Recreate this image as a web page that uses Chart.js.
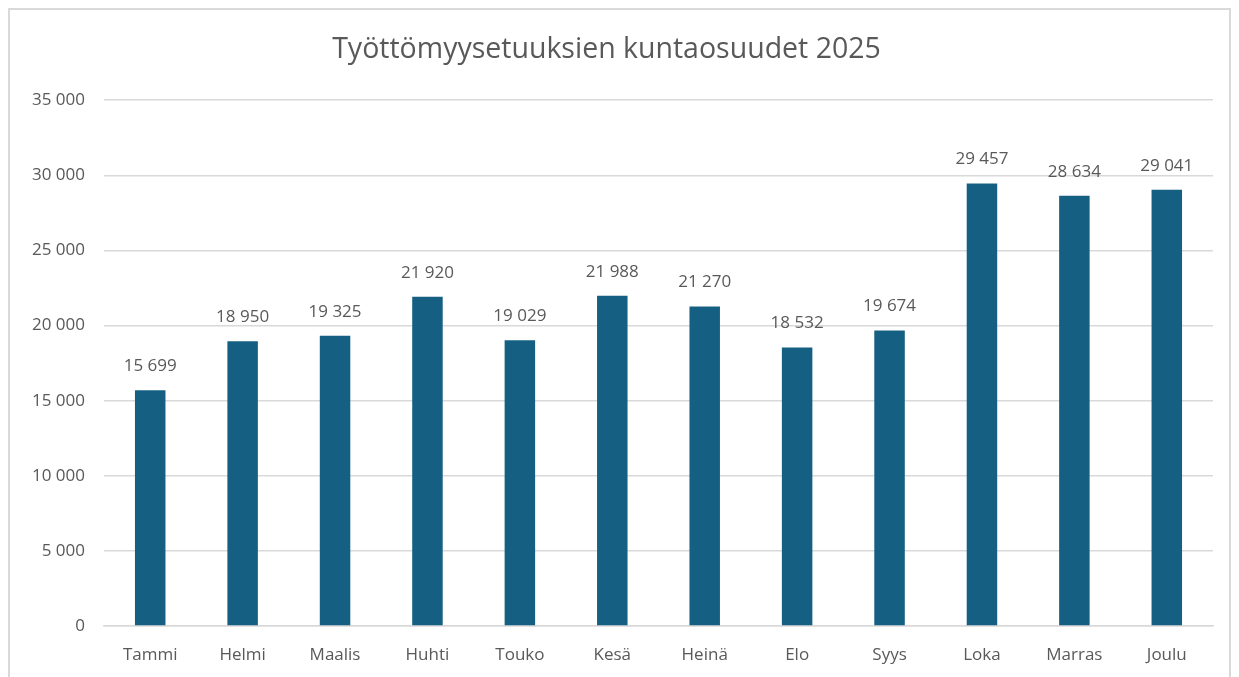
<!DOCTYPE html>
<html>
<head>
<meta charset="utf-8">
<script src="https://cdn.jsdelivr.net/npm/chart.js@4.4.1/dist/chart.umd.min.js"></script>
<style>
  html, body { margin: 0; padding: 0; background: #fff; }
  #wrap { position: relative; width: 1239px; height: 677px; overflow: hidden; }
  #frame { position: absolute; left: 8px; top: 8px; width: 1223px; height: 700px; border: 2px solid #d9d9d9; box-sizing: border-box; }
  #c { position: absolute; left: 0; top: 0; }
</style>
</head>
<body>
<div id="wrap">
  <div id="frame"></div>
  <canvas id="c" width="1239" height="677"></canvas>
</div>
<script>
const categories = ["Tammi","Helmi","Maalis","Huhti","Touko","Kesä","Heinä","Elo","Syys","Loka","Marras","Joulu"];
const values = [15699, 18950, 19325, 21920, 19029, 21988, 21270, 18532, 19674, 29457, 28634, 29041];
const yTicks = [0, 5000, 10000, 15000, 20000, 25000, 30000, 35000];
const chartTitle = "Työttömyysetuuksien kuntaosuudet 2025";

const FONT = "'Open Sans', 'Noto Sans', sans-serif";
const TEXT = "#595959";
const fmt = v => String(v).replace(/\B(?=(\d{3})+(?!\d))/g, " ");

const dataLabels = {
  id: 'dataLabels',
  afterDatasetsDraw(chart) {
    const ctx = chart.ctx;
    const meta = chart.getDatasetMeta(0);
    ctx.save();
    ctx.font = "17px " + FONT;
    ctx.fillStyle = TEXT;
    ctx.textAlign = "center";
    ctx.textBaseline = "middle";
    meta.data.forEach((bar, i) => {
      ctx.fillText(fmt(chart.data.datasets[0].data[i]), bar.x, bar.y - 24);
    });
    ctx.restore();
  }
};

new Chart(document.getElementById('c'), {
  type: 'bar',
  data: {
    labels: categories,
    datasets: [{
      data: values,
      backgroundColor: '#156082',
      borderWidth: 0,
      barPercentage: 0.33,
      categoryPercentage: 1
    }]
  },
  options: {
    responsive: false,
    animation: false,
    devicePixelRatio: 1,
    layout: { padding: { top: 33, right: 26, left: 0, bottom: 0 } },
    plugins: {
      legend: { display: false },
      tooltip: { enabled: false },
      title: {
        display: true,
        text: chartTitle,
        color: TEXT,
        font: { family: FONT, size: 28.5, weight: 'normal' },
        padding: { top: 0, bottom: 33 }
      }
    },
    scales: {
      x: {
        grid: { display: false, drawTicks: false },
        border: { display: true, color: '#d9d9d9', width: 1.5 },
        ticks: { color: TEXT, font: { family: FONT, size: 17 }, padding: 19, maxRotation: 0 },
        afterFit(s) { s.height = 51; }
      },
      y: {
        min: 0, max: 35000,
        afterBuildTicks(s) { s.ticks = yTicks.map(v => ({ value: v })); },
        grid: { color: '#d9d9d9', lineWidth: 1.5, drawTicks: false },
        border: { display: false },
        ticks: { color: TEXT, font: { family: FONT, size: 17 }, padding: 19, callback: v => fmt(v) },
        afterFit(s) { s.width = 104; }
      }
    }
  },
  plugins: [dataLabels]
});
</script>
</body>
</html>
